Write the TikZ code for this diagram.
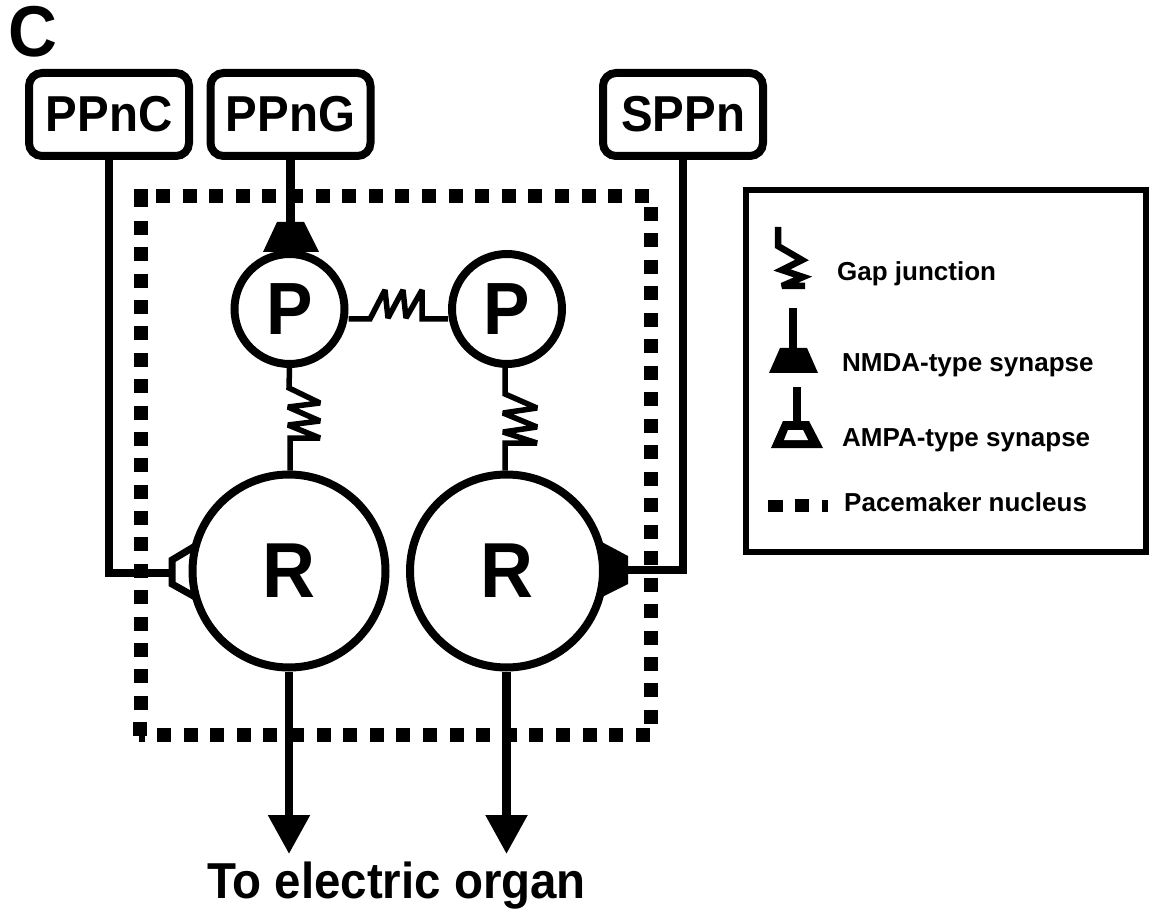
\documentclass[tikz,border=0pt]{standalone}
\usepackage{fontspec}
\setmainfont{Liberation Sans}
\newfontfamily\stretchfont{Liberation Sans}[FakeStretch=0.94]
\usetikzlibrary{arrows.meta}
\tikzset{
  wire/.style={line width=8pt,line cap=butt,line join=miter},
  springline/.style={line width=5.5pt,line cap=butt,line join=miter,miter limit=3},
  srcbox/.style={draw,line width=8pt,rounded corners=13pt,fill=white,inner sep=0pt,minimum width=160pt,minimum height=83pt,font=\stretchfont\bfseries\fontsize{50.5}{50.5}\selectfont},
  cellP/.style={circle,draw,line width=8pt,minimum size=110pt,inner sep=0pt,fill=white,font=\stretchfont\bfseries\fontsize{74}{74}\selectfont},
  cellR/.style={circle,draw,line width=8pt,minimum size=193pt,inner sep=0pt,fill=white,font=\stretchfont\bfseries\fontsize{78}{78}\selectfont},
  nucedge/.style={line width=14pt,dash pattern=on 14pt off 12.6pt},
  outarrow/.style={wire,line width=8.5pt,-{Triangle[length=39pt,width=40pt]}},
  legtext/.style={anchor=base west,inner sep=0pt,font=\bfseries\fontsize{26}{26}\selectfont},
}
\begin{document}
\begin{tikzpicture}[x=1pt,y=-1pt]
\useasboundingbox (0,0) rectangle (1149,909);
\fill[white] (0,0) rectangle (1149,909);
% panel letter
\node[inner sep=0pt,font=\stretchfont\bfseries\fontsize{72}{72}\selectfont] (c) at (32.5,32) {C};
% nucleus outline
\draw[nucedge] (156,196) -- (649,196);
\draw[nucedge,dash pattern=on 14pt off 12.47pt] (650.5,207) -- (650.5,724);
\draw[nucedge] (157,735) -- (650,735);
\draw[nucedge,dash pattern=on 14pt off 12.37pt] (140.5,221) -- (140.5,722);
\fill (133.5,189) rectangle (148,207);
\fill (133,722) rectangle (147,736);
\fill (139,736) rectangle (145,742);
% source boxes
\node[srcbox] (ppnc) at (109,114.5) {PPnC};
\node[srcbox] (ppng) at (290.5,114.5) {PPnG};
\node[srcbox] (sppn) at (683,114.5) {SPPn};
% synapse end points
\coordinate (ampaL) at (172,572.5);
\coordinate (nmdaR) at (628,570);
\coordinate (nmdaP) at (290.5,223);
\coordinate (out1) at (289,854);
\coordinate (out2) at (506.5,854);
% synapses drawn under the cells
\draw[line width=7pt,line join=miter,fill=white] (197,545) -- (172,560) -- (172,584) -- (197,598);
\fill (628,556) -- (628,584) -- (598,599) -- (598,540) -- cycle;
\fill (277,222) -- (304,222) -- (319,252) -- (263,252) -- cycle;
% cells
\node[cellP] (p1) at (289.5,309) {\raisebox{-2.5pt}{P}};
\node[cellP] (p2) at (507,309) {\raisebox{-2.5pt}{P}};
\node[cellR] (r1) at (289,571) {\raisebox{-3pt}{R}};
\node[cellR] (r2) at (506.5,571) {\raisebox{-3pt}{R}};
% inputs
\draw[wire] (ppnc.south) |- (ampaL);
\draw[wire,line width=8.5pt] (ppng.south) -- (nmdaP);
\draw[wire] (sppn.south) |- (nmdaR);
% gap junctions
\draw[springline] (p1.east |- 0,319) -- (370,319) -- (385,290) -- (388,318) -- (403,290) -- (406,318) -- (422,290) -- (422,319) -- (p2.west |- 0,319);
\draw[springline] (p1.south) -- (289,388) -- (320,403) -- (288,407) -- (320,421) -- (288,425) -- (320,438) -- (290,438) -- (r1.north -| 290,0);
\draw[springline] (p2.south -| 505,0) -- (505,394) -- (537,408) -- (503,413) -- (537,427) -- (503,432) -- (537,443) -- (505,443) -- (r2.north -| 505,0);
% outputs
\draw[outarrow] (r1.south) -- (out1);
\draw[outarrow] (r2.south) -- (out2);
\node[anchor=base,inner sep=0pt,font=\stretchfont\bfseries\fontsize{50.5}{50.5}\selectfont] (lab) at (396.5,898) {To electric organ};
% legend
\node[draw,line width=6pt,minimum width=400pt,minimum height=362pt,inner sep=0pt] (legend) at (946,371) {};
\draw[springline,line width=6.5pt] (778,227) -- (778,246) -- (802,260) -- (782,270) -- (803,277) -- (782,286) -- (805,286);
\node[legtext] (t1) at (837,281) {Gap junction};
\draw[wire] (793,308) -- (793,349);
\fill (780,348) -- (807,348) -- (818,373) -- (769,373) -- cycle;
\node[legtext] (t2) at (842,372) {NMDA-type synapse};
\draw[wire] (797,387) -- (797,422);
\fill (783,421) -- (809,421) -- (823,448) -- (771,448) -- cycle;
\fill[white] (788,430) -- (803,430) -- (808,440) -- (784,440) -- cycle;
\node[legtext] (t3) at (842,446) {AMPA-type synapse};
\fill (768,500) rectangle (783,512);
\fill (795,499) rectangle (809,512);
\fill (822,500) rectangle (828,512);
\node[legtext] (t4) at (844,511) {Pacemaker nucleus};
\end{tikzpicture}
\end{document}
